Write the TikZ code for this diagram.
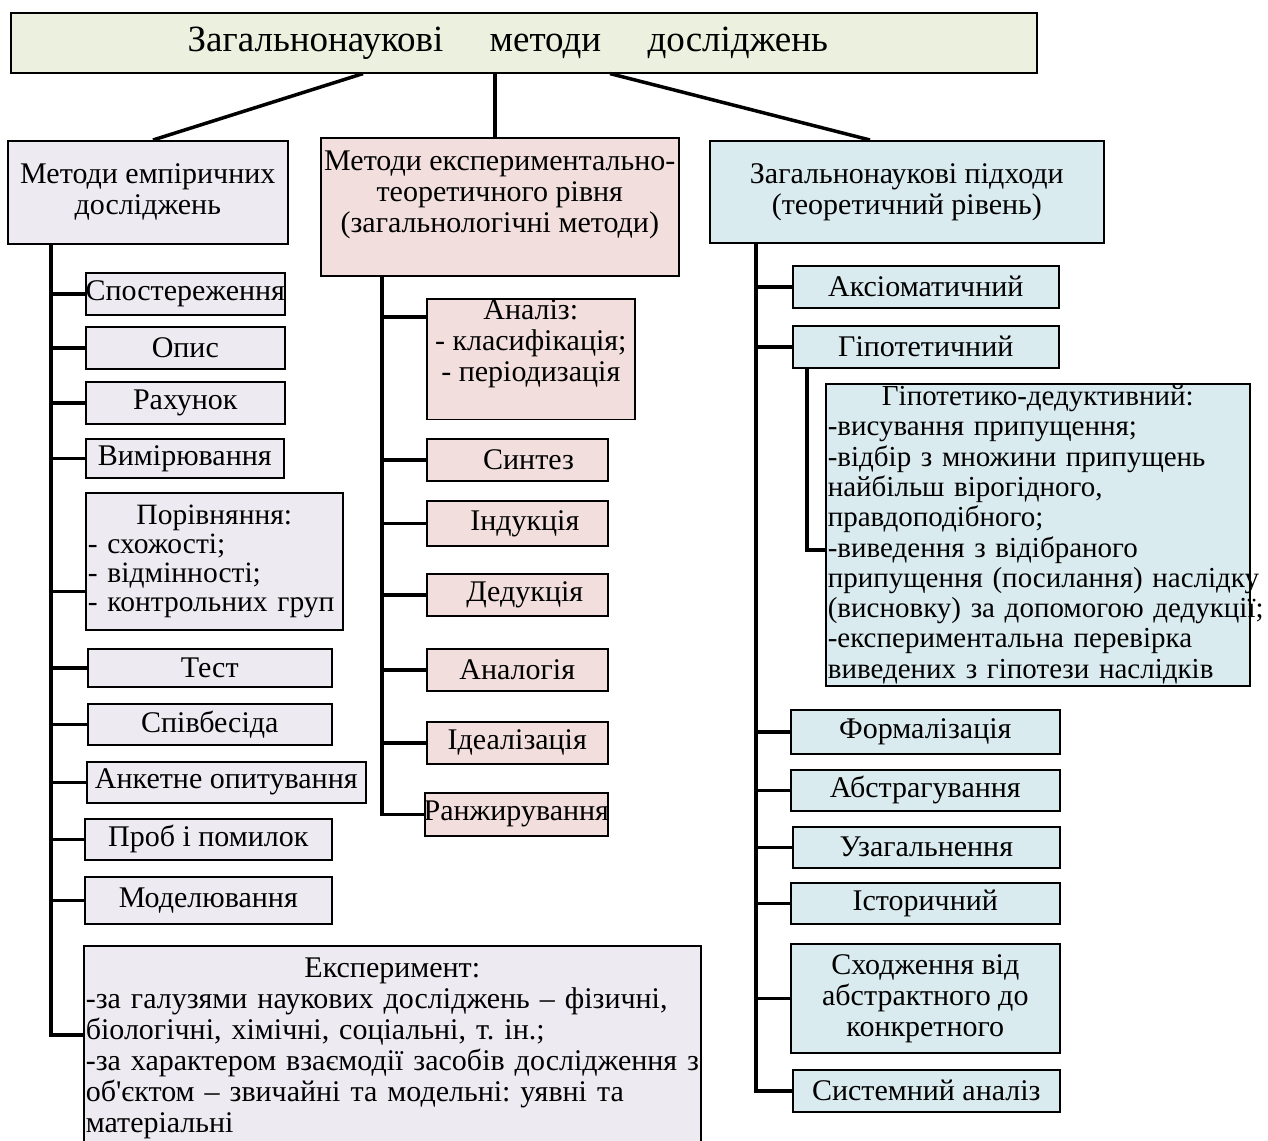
\documentclass[tikz,border=0pt]{standalone}
\usepackage{fontspec}
\setmainfont{Liberation Serif}
\newfontfamily\plainserif{Liberation Serif}

\definecolor{titlecol}{HTML}{EBF0DF}
\definecolor{leftcol}{HTML}{EDEAF2}
\definecolor{midcol}{HTML}{F2DFDD}
\definecolor{rightcol}{HTML}{DAEBF0}

\tikzset{
  box/.style={draw=black, line width=1.6pt, rectangle, inner xsep=0pt, inner ysep=1pt,
    anchor=north west, align=center, font=\fontsize{30}{31}\selectfont},
  sz/.style 2 args={minimum width=#1, minimum height=#2},
  tbox/.style={box, fill=titlecol, font=\fontsize{37}{40}\selectfont},
  lbox/.style={box, fill=leftcol},
  mbox/.style={box, fill=midcol},
  rbox/.style={box, fill=rightcol},
  link/.style={line width=3.5pt}
}

\begin{document}
\frenchspacing
\begin{tikzpicture}[x=1pt,y=-1pt]
  \useasboundingbox (0,0) rectangle (1268,1140);

  % Paso 1: cuadro principal
  \node[tbox, sz={1026}{60}] (title) at (10,12)
    {Загальнонаукові\hspace{1em} методи\hspace{1em} досліджень\hspace{32pt}};

  % Paso 2: tres grupos de métodos
  \node[lbox, sz={280}{103}] (lroot) at (7,140) {Методи емпіричних\\ досліджень};
  \node[mbox, sz={358}{138}] (mroot) at (320,137)
    {\makebox[354pt]{Методи експериментально-}\\ теоретичного рівня\\ (загальнологічні методи)\\ \mbox{}};
  \node[rbox, sz={394}{102}] (rroot) at (709,140) {Загальнонаукові підходи\\ (теоретичний рівень)};

  \draw[link] ([xshift=353pt]title.south west) -- ([xshift=146pt]lroot.north west);
  \draw[link] ([xshift=485pt]title.south west) -- ([xshift=175pt]mroot.north west);
  \draw[link] ([xshift=600pt]title.south west) -- ([xshift=161pt]rroot.north west);

  % Paso 3: métodos empíricos
  \node[lbox, sz={199}{42}] (spost) at (85,272) {\makebox[199pt]{Спостереження}};
  \node[lbox, sz={199}{42}] (opys) at (85,326) {Опис};
  \node[lbox, sz={199}{42}] (rakh) at (85,381) {Рахунок};
  \node[lbox, sz={198}{39}] (vymir) at (85,438) {Вимірювання};
  \node[lbox, sz={257}{137}, text width=253pt, align=left,
        font=\fontsize{29.5}{29}\selectfont] (porivn) at (85,492)
    {\makebox[\linewidth][c]{Порівняння:}\\ -\ схожості;\\ -\ відмінності;\\
     \mbox{-\ контрольних груп}\\[4pt]};
  \node[lbox, sz={244}{38}] (test) at (87,648) {Тест};
  \node[lbox, sz={244}{41}] (spivb) at (87,703) {Співбесіда};
  \node[lbox, sz={279}{41}] (anket) at (86,761) {\makebox[279pt]{Анкетне опитування}};
  \node[lbox, sz={247}{41}] (prob) at (84,818) {Проб і помилок};
  \node[lbox, sz={247}{47}] (model) at (84,876) {Моделювання};
  \node[lbox, sz={617}{205}, text width=613pt, align=left] (exper) at (83,945)
    {\makebox[\linewidth][c]{Експеримент:}\\
     \mbox{-за галузями наукових досліджень – фізичні,}\\
     \mbox{біологічні, хімічні, соціальні, т. ін.;}\\
     \mbox{-за характером взаємодії засобів дослідження з}\\
     \mbox{об{\plainserif '}єктом – звичайні та модельні: уявні та}\\
     матеріальні};

  \coordinate (ltrunk) at (lroot.south -| 51,0);
  \foreach \n in {spost,opys,rakh,vymir,test,spivb,anket,prob,model}
    \draw[link] (ltrunk) |- (\n.west);
  \draw[link] (ltrunk) |- ([yshift=-30pt]porivn.west);
  \draw[link] (ltrunk) |- ([yshift=-90pt]exper.north west);

  % Paso 4: métodos lógicos generales
  \node[mbox, sz={208}{112}] (analiz) at (426,298)
    {Аналіз:\\ - класифікація;\\ - періодизація\\[6pt]};
  \node[mbox, sz={181}{42}] (syntez) at (426,438) {\ \ \ Синтез};
  \node[mbox, sz={181}{45}] (induk) at (426,500) {\ \ Індукція};
  \node[mbox, sz={181}{42}] (deduk) at (426,573) {\ \ Дедукція};
  \node[mbox, sz={181}{42}] (analog) at (426,648) {Аналогія};
  \node[mbox, sz={181}{42}] (ideal) at (426,721) {Ідеалізація};
  \node[mbox, sz={183}{43}] (ranzh) at (424,792) {\makebox[183pt]{Ранжирування}};

  \coordinate (mtrunk) at (mroot.south -| 382,0);
  \draw[link] (mtrunk) |- ([yshift=-19pt]analiz.north west);
  \foreach \n in {syntez,induk,deduk,analog,ideal,ranzh}
    \draw[link] (mtrunk) |- (\n.west);

  % Paso 5: enfoques científicos generales
  \node[rbox, sz={266}{42}] (aksiom) at (792,265) {Аксіоматичний};
  \node[rbox, sz={266}{42}] (gipot) at (792,325) {Гіпотетичний};
  \node[rbox, sz={424}{302}, text width=420pt, align=left,
        font=\fontsize{29}{30.3}\selectfont] (gded) at (825,383)
    {\makebox[\linewidth][c]{Гіпотетико-дедуктивний:}\\
     -висування припущення;\\
     -відбір з множини припущень\\
     найбільш вірогідного,\\
     правдоподібного;\\
     -виведення з відібраного\\
     \mbox{припущення (посилання) наслідку}\\
     \mbox{(висновку) за допомогою дедукції;}\\
     -експериментальна перевірка\\
     \mbox{виведених з гіпотези наслідків}};
  \node[rbox, sz={269}{44}] (formal) at (790,709) {Формалізація};
  \node[rbox, sz={269}{41}] (abstr) at (790,769) {Абстрагування};
  \node[rbox, sz={267}{41}] (uzag) at (792,826) {Узагальнення};
  \node[rbox, sz={269}{41}] (istor) at (790,882) {Історичний};
  \node[rbox, sz={269}{109}] (skhod) at (790,943) {Сходження від\\ абстрактного до\\ конкретного};
  \node[rbox, sz={267}{42}] (system) at (792,1069) {Системний аналіз};

  \coordinate (rtrunk) at (rroot.south -| 756,0);
  \foreach \n in {aksiom,gipot,formal,abstr,uzag,istor,skhod,system}
    \draw[link] (rtrunk) |- (\n.west);
  \coordinate (gtrunk) at (gipot.south -| 807,0);
  \draw[link] (gtrunk) |- ([yshift=-167pt]gded.north west);
\end{tikzpicture}
\end{document}
